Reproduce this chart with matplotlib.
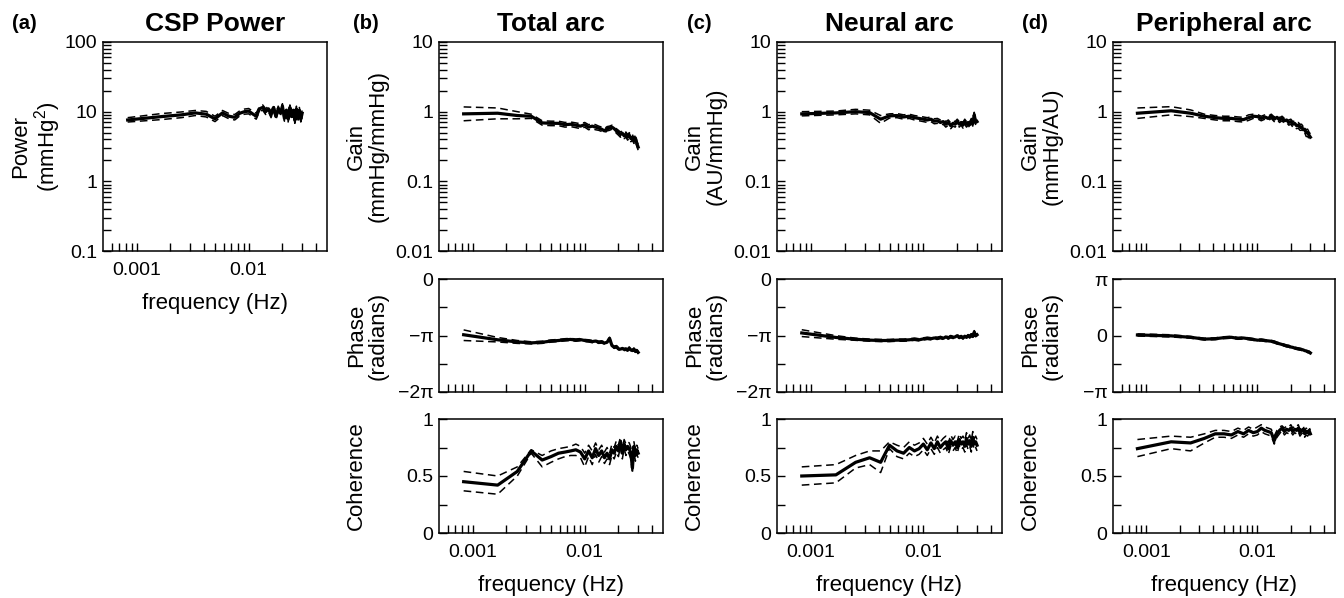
import matplotlib
matplotlib.use("Agg")
import matplotlib.pyplot as plt
from matplotlib.ticker import FixedLocator, FixedFormatter, NullFormatter
import numpy as np

plt.rcParams.update(
    {
        "font.family": "Liberation Sans",
        "mathtext.fontset": "custom",
        "mathtext.rm": "Liberation Sans",
        "mathtext.it": "Liberation Sans:italic",
        "axes.linewidth": 1.1,
        "xtick.direction": "in",
        "ytick.direction": "in",
    }
)

# frequency bins (Hz)
freq = [0.00083, 0.00167, 0.0025, 0.00333, 0.00417, 0.005, 0.00583, 0.00667, 0.0075,
        0.00833, 0.00917, 0.01, 0.01083, 0.01167, 0.0125, 0.01333, 0.01417, 0.015,
        0.01583, 0.01667, 0.0175, 0.01833, 0.01917, 0.02, 0.02083, 0.02167, 0.0225,
        0.02333, 0.02417, 0.025, 0.02583, 0.02667, 0.0275, 0.02833, 0.02917, 0.03]

# (a) CSP power, mmHg^2
power_mean = [7.6, 8.5, 9.0, 9.6, 9.2, 7.9, 9.6, 8.6, 8.3, 9.5, 10.0, 10.2, 9.3, 8.6, 11.0, 11.5, 10.0, 11.0,
              9.0, 11.5, 8.5, 11.0, 9.5, 12.0, 8.0, 10.5, 7.8, 11.5, 8.5, 10.5, 7.5, 11.0, 8.0, 10.5, 7.8, 9.5]
power_upper = [8.2, 9.4, 9.9, 10.4, 10.1, 8.6, 10.4, 9.4, 9.1, 10.3, 10.9, 11.1, 10.2, 9.5, 12.0, 12.5, 11.0, 12.0,
               9.9, 12.5, 9.4, 12.0, 10.4, 13.0, 8.8, 11.5, 8.6, 12.5, 9.3, 11.5, 8.3, 12.0, 8.8, 11.5, 8.6, 10.4]
power_lower = [7.1, 7.7, 8.2, 8.8, 8.4, 7.2, 8.8, 7.9, 7.6, 8.7, 9.2, 9.3, 8.5, 7.8, 10.1, 10.5, 9.1, 10.0,
               8.2, 10.5, 7.7, 10.0, 8.7, 11.0, 7.3, 9.6, 7.1, 10.5, 7.8, 9.6, 6.8, 10.1, 7.3, 9.6, 7.1, 8.7]

# (b) total arc
total_gain_mean = [0.93, 0.95, 0.88, 0.86, 0.69, 0.68, 0.68, 0.65, 0.66, 0.64, 0.62, 0.65, 0.6, 0.62, 0.6, 0.58, 0.56, 0.53,
                   0.57, 0.58, 0.6, 0.57, 0.53, 0.5, 0.47, 0.49, 0.45, 0.47, 0.43, 0.46, 0.41, 0.43, 0.38, 0.42, 0.35, 0.31]
total_gain_upper = [1.17, 1.13, 1.0, 0.92, 0.74, 0.73, 0.73, 0.70, 0.71, 0.69, 0.67, 0.70, 0.65, 0.67, 0.65, 0.62, 0.60, 0.57,
                    0.61, 0.62, 0.64, 0.61, 0.57, 0.54, 0.51, 0.53, 0.49, 0.51, 0.47, 0.50, 0.45, 0.47, 0.41, 0.46, 0.38, 0.34]
total_gain_lower = [0.74, 0.79, 0.79, 0.80, 0.64, 0.63, 0.63, 0.60, 0.61, 0.59, 0.57, 0.60, 0.55, 0.57, 0.55, 0.54, 0.52, 0.49,
                    0.53, 0.54, 0.56, 0.53, 0.49, 0.46, 0.43, 0.45, 0.41, 0.43, 0.39, 0.42, 0.37, 0.39, 0.35, 0.38, 0.32, 0.28]
total_phase_mean = [-3.1, -3.38, -3.5, -3.55, -3.52, -3.45, -3.42, -3.38, -3.36, -3.4, -3.37, -3.42, -3.44, -3.48, -3.45, -3.52, -3.5, -3.56,
                    -3.52, -3.3, -3.7, -3.8, -3.76, -3.88, -3.9, -3.86, -3.92, -3.9, -3.95, -3.84, -3.95, -3.98, -3.9, -4.02, -3.98, -4.08]
total_phase_upper = [-2.83, -3.25, -3.42, -3.49, -3.46, -3.39, -3.36, -3.32, -3.3, -3.34, -3.31, -3.36, -3.38, -3.42, -3.39, -3.46, -3.44, -3.5,
                     -3.46, -3.24, -3.64, -3.74, -3.7, -3.82, -3.84, -3.8, -3.86, -3.84, -3.89, -3.78, -3.89, -3.92, -3.84, -3.96, -3.92, -4.02]
total_phase_lower = [-3.42, -3.5, -3.58, -3.61, -3.58, -3.51, -3.48, -3.44, -3.42, -3.46, -3.43, -3.48, -3.5, -3.54, -3.51, -3.58, -3.56, -3.62,
                     -3.58, -3.36, -3.76, -3.86, -3.82, -3.94, -3.96, -3.92, -3.98, -3.96, -4.01, -3.9, -4.01, -4.04, -3.96, -4.08, -4.04, -4.14]
total_coh_mean = [0.45, 0.42, 0.54, 0.72, 0.64, 0.67, 0.7, 0.71, 0.72, 0.73, 0.71, 0.65, 0.72, 0.66, 0.74, 0.68, 0.72, 0.66,
                  0.7, 0.65, 0.73, 0.7, 0.76, 0.72, 0.8, 0.7, 0.78, 0.73, 0.76, 0.74, 0.7, 0.57, 0.76, 0.68, 0.73, 0.7]
total_coh_upper = [0.54, 0.5, 0.58, 0.73, 0.68, 0.72, 0.74, 0.75, 0.76, 0.78, 0.76, 0.7, 0.77, 0.72, 0.79, 0.73, 0.77, 0.71,
                   0.75, 0.7, 0.78, 0.75, 0.81, 0.77, 0.84, 0.75, 0.82, 0.78, 0.8, 0.79, 0.75, 0.64, 0.8, 0.73, 0.77, 0.74]
total_coh_lower = [0.37, 0.34, 0.5, 0.7, 0.58, 0.62, 0.65, 0.67, 0.68, 0.68, 0.66, 0.58, 0.67, 0.6, 0.69, 0.62, 0.67, 0.61,
                   0.65, 0.6, 0.68, 0.65, 0.71, 0.67, 0.76, 0.65, 0.74, 0.68, 0.72, 0.69, 0.65, 0.52, 0.72, 0.63, 0.69, 0.66]

# (c) neural arc
neural_gain_mean = [0.93, 0.96, 1.0, 0.97, 0.78, 0.87, 0.88, 0.84, 0.86, 0.82, 0.8, 0.78, 0.76, 0.78, 0.73, 0.74, 0.7, 0.72,
                    0.66, 0.7, 0.63, 0.68, 0.66, 0.72, 0.66, 0.7, 0.64, 0.72, 0.66, 0.7, 0.65, 0.74, 0.68, 0.9, 0.7, 0.72]
neural_gain_upper = [1.0, 1.02, 1.08, 1.05, 0.88, 0.93, 0.94, 0.9, 0.92, 0.88, 0.86, 0.84, 0.82, 0.84, 0.79, 0.8, 0.76, 0.78,
                     0.72, 0.76, 0.69, 0.74, 0.72, 0.78, 0.72, 0.76, 0.7, 0.78, 0.72, 0.76, 0.71, 0.8, 0.74, 0.98, 0.76, 0.78]
neural_gain_lower = [0.87, 0.9, 0.93, 0.9, 0.68, 0.81, 0.82, 0.78, 0.8, 0.76, 0.74, 0.72, 0.7, 0.72, 0.67, 0.68, 0.64, 0.66,
                     0.6, 0.64, 0.57, 0.62, 0.6, 0.66, 0.6, 0.64, 0.58, 0.66, 0.6, 0.64, 0.59, 0.68, 0.62, 0.82, 0.64, 0.66]
neural_phase_mean = [-3.0, -3.25, -3.35, -3.4, -3.42, -3.42, -3.4, -3.4, -3.38, -3.35, -3.38, -3.33, -3.3, -3.32, -3.28, -3.3, -3.25, -3.3,
                     -3.22, -3.28, -3.2, -3.25, -3.22, -3.15, -3.25, -3.2, -3.28, -3.18, -3.25, -3.15, -3.22, -3.1, -3.2, -2.95, -3.15, -3.1]
neural_phase_upper = [-2.82, -3.15, -3.29, -3.34, -3.36, -3.36, -3.34, -3.34, -3.32, -3.29, -3.32, -3.27, -3.24, -3.26, -3.22, -3.24, -3.19, -3.24,
                      -3.16, -3.22, -3.14, -3.19, -3.16, -3.09, -3.19, -3.14, -3.22, -3.12, -3.19, -3.09, -3.16, -3.04, -3.14, -2.87, -3.09, -3.04]
neural_phase_lower = [-3.2, -3.35, -3.41, -3.46, -3.48, -3.48, -3.46, -3.46, -3.44, -3.41, -3.44, -3.39, -3.36, -3.38, -3.34, -3.36, -3.31, -3.36,
                      -3.28, -3.34, -3.26, -3.31, -3.28, -3.21, -3.31, -3.26, -3.34, -3.24, -3.31, -3.21, -3.28, -3.16, -3.26, -3.03, -3.21, -3.16]
neural_coh_mean = [0.5, 0.51, 0.62, 0.66, 0.62, 0.77, 0.72, 0.7, 0.75, 0.72, 0.74, 0.78, 0.73, 0.79, 0.74, 0.8, 0.75, 0.78,
                   0.8, 0.74, 0.81, 0.77, 0.8, 0.75, 0.82, 0.78, 0.8, 0.76, 0.83, 0.78, 0.81, 0.76, 0.84, 0.78, 0.8, 0.77]
neural_coh_upper = [0.58, 0.6, 0.68, 0.72, 0.72, 0.8, 0.77, 0.75, 0.8, 0.77, 0.79, 0.83, 0.78, 0.84, 0.79, 0.85, 0.8, 0.83,
                    0.85, 0.79, 0.86, 0.82, 0.85, 0.8, 0.87, 0.83, 0.85, 0.81, 0.88, 0.83, 0.86, 0.81, 0.89, 0.83, 0.85, 0.82]
neural_coh_lower = [0.42, 0.44, 0.57, 0.6, 0.53, 0.74, 0.67, 0.65, 0.7, 0.67, 0.69, 0.73, 0.68, 0.74, 0.69, 0.75, 0.7, 0.73,
                    0.75, 0.69, 0.76, 0.72, 0.75, 0.7, 0.77, 0.73, 0.75, 0.71, 0.78, 0.73, 0.76, 0.71, 0.79, 0.73, 0.75, 0.72]

# (d) peripheral arc
periph_gain_mean = [0.95, 1.03, 0.95, 0.86, 0.82, 0.8, 0.8, 0.78, 0.77, 0.82, 0.86, 0.85, 0.8, 0.84, 0.8, 0.86, 0.78, 0.83,
                    0.76, 0.8, 0.74, 0.76, 0.7, 0.72, 0.66, 0.68, 0.63, 0.64, 0.6, 0.6, 0.55, 0.56, 0.5, 0.5, 0.46, 0.43]
periph_gain_upper = [1.13, 1.18, 1.06, 0.92, 0.88, 0.86, 0.86, 0.84, 0.83, 0.9, 0.92, 0.91, 0.86, 0.9, 0.86, 0.92, 0.84, 0.89,
                     0.82, 0.86, 0.8, 0.82, 0.76, 0.78, 0.72, 0.74, 0.69, 0.7, 0.66, 0.66, 0.61, 0.62, 0.56, 0.56, 0.51, 0.48]
periph_gain_lower = [0.8, 0.9, 0.85, 0.8, 0.76, 0.74, 0.74, 0.72, 0.71, 0.75, 0.8, 0.79, 0.74, 0.78, 0.74, 0.8, 0.72, 0.77,
                     0.7, 0.74, 0.68, 0.7, 0.64, 0.66, 0.6, 0.62, 0.57, 0.58, 0.54, 0.54, 0.49, 0.5, 0.44, 0.44, 0.41, 0.38]
periph_phase_mean = [0.03, -0.02, -0.1, -0.2, -0.18, -0.12, -0.1, -0.16, -0.14, -0.18, -0.22, -0.26, -0.25, -0.28, -0.3, -0.32, -0.36, -0.42,
                     -0.46, -0.5, -0.54, -0.58, -0.6, -0.64, -0.66, -0.7, -0.72, -0.74, -0.76, -0.78, -0.8, -0.84, -0.86, -0.9, -0.92, -0.97]
periph_phase_upper = [0.09, 0.04, -0.05, -0.15, -0.13, -0.07, -0.05, -0.11, -0.09, -0.13, -0.17, -0.21, -0.2, -0.23, -0.25, -0.27, -0.31, -0.37,
                      -0.41, -0.45, -0.49, -0.53, -0.55, -0.59, -0.61, -0.65, -0.67, -0.69, -0.71, -0.73, -0.75, -0.79, -0.81, -0.85, -0.87, -0.92]
periph_phase_lower = [-0.03, -0.08, -0.15, -0.25, -0.23, -0.17, -0.15, -0.21, -0.19, -0.23, -0.27, -0.31, -0.3, -0.33, -0.35, -0.37, -0.41, -0.47,
                      -0.51, -0.55, -0.59, -0.63, -0.65, -0.69, -0.71, -0.75, -0.77, -0.79, -0.81, -0.83, -0.85, -0.89, -0.91, -0.95, -0.97, -1.02]
periph_coh_mean = [0.74, 0.8, 0.79, 0.83, 0.87, 0.87, 0.86, 0.89, 0.87, 0.9, 0.88, 0.89, 0.92, 0.9, 0.89, 0.88, 0.81, 0.87,
                   0.9, 0.92, 0.89, 0.91, 0.9, 0.92, 0.89, 0.91, 0.9, 0.92, 0.88, 0.9, 0.91, 0.87, 0.89, 0.88, 0.9, 0.87]
periph_coh_upper = [0.82, 0.85, 0.84, 0.87, 0.9, 0.9, 0.89, 0.92, 0.9, 0.93, 0.91, 0.93, 0.95, 0.93, 0.92, 0.91, 0.85, 0.9,
                    0.93, 0.94, 0.92, 0.94, 0.93, 0.95, 0.92, 0.94, 0.93, 0.95, 0.91, 0.93, 0.94, 0.9, 0.92, 0.91, 0.93, 0.9]
periph_coh_lower = [0.67, 0.74, 0.72, 0.79, 0.84, 0.84, 0.83, 0.86, 0.84, 0.87, 0.85, 0.86, 0.89, 0.87, 0.86, 0.85, 0.78, 0.84,
                    0.87, 0.9, 0.86, 0.88, 0.87, 0.89, 0.86, 0.88, 0.87, 0.89, 0.85, 0.87, 0.88, 0.84, 0.86, 0.85, 0.87, 0.84]

W, H = 1344, 598
fig = plt.figure(figsize=(W / 100, H / 100), dpi=100)

TICK_FS = 14
LABEL_FS = 16


def add_ax(left, top, right, bottom):
    return fig.add_axes([left / W, 1 - bottom / H, (right - left) / W, (bottom - top) / H])


def style_x(ax, labels):
    ax.set_xscale("log")
    ax.set_xlim(0.0005, 0.05)
    ax.xaxis.set_major_locator(FixedLocator([0.001, 0.01]))
    minors = [0.0006, 0.0007, 0.0008, 0.0009, 0.002, 0.003, 0.004, 0.005, 0.006, 0.007,
              0.008, 0.009, 0.02, 0.03, 0.04]
    ax.xaxis.set_minor_locator(FixedLocator(minors))
    ax.xaxis.set_minor_formatter(NullFormatter())
    if labels:
        ax.xaxis.set_major_formatter(FixedFormatter(["0.001", "0.01"]))
        ax.set_xlabel("frequency (Hz)", fontsize=LABEL_FS, labelpad=10)
    else:
        ax.xaxis.set_major_formatter(NullFormatter())
    ax.tick_params(axis="both", which="both", length=6, width=1.0, labelsize=TICK_FS, top=False, right=False)
    ax.tick_params(axis="x", which="both", pad=8)
    ax.tick_params(axis="y", which="both", pad=4)


def ylabel(ax, text, width_px):
    ax.set_ylabel(text, fontsize=LABEL_FS, linespacing=1.05, va="top")
    ax.yaxis.set_label_coords(-93 / width_px, 0.5)


def draw(ax, mean, upper, lower):
    ax.plot(freq, upper, color="black", lw=1.1, ls=(0, (5, 3)))
    ax.plot(freq, lower, color="black", lw=1.1, ls=(0, (5, 3)))
    ax.plot(freq, mean, color="black", lw=2.3)


def gain_axis(ax, lo, hi):
    ax.set_yscale("log")
    ax.set_ylim(lo, hi)
    decades = []
    v = lo
    while v <= hi * 1.0001:
        decades.append(v)
        v *= 10
    ax.yaxis.set_major_locator(FixedLocator(decades))
    ax.yaxis.set_major_formatter(FixedFormatter([f"{d:g}" for d in decades]))
    minors = [d * m for d in decades[:-1] for m in range(2, 10)]
    ax.yaxis.set_minor_locator(FixedLocator(minors))
    ax.yaxis.set_minor_formatter(NullFormatter())


# ---- (a) CSP Power
ax = add_ax(103, 42, 327, 251)
draw(ax, power_mean, power_upper, power_lower)
style_x(ax, True)
gain_axis(ax, 0.1, 100)
ylabel(ax, "Power\n(mmHg$^2$)", 224)

columns = [
    (439, 663, "Gain\n(mmHg/mmHg)",
     (total_gain_mean, total_gain_upper, total_gain_lower),
     (total_phase_mean, total_phase_upper, total_phase_lower),
     (total_coh_mean, total_coh_upper, total_coh_lower), "neg"),
    (777, 1002, "Gain\n(AU/mmHg)",
     (neural_gain_mean, neural_gain_upper, neural_gain_lower),
     (neural_phase_mean, neural_phase_upper, neural_phase_lower),
     (neural_coh_mean, neural_coh_upper, neural_coh_lower), "neg"),
    (1113, 1335, "Gain\n(mmHg/AU)",
     (periph_gain_mean, periph_gain_upper, periph_gain_lower),
     (periph_phase_mean, periph_phase_upper, periph_phase_lower),
     (periph_coh_mean, periph_coh_upper, periph_coh_lower), "sym"),
]

for left, right, glabel, gain, phase, coh, prange in columns:
    wpx = right - left
    ax = add_ax(left, 42, right, 251)
    draw(ax, *gain)
    style_x(ax, False)
    gain_axis(ax, 0.01, 10)
    ylabel(ax, glabel, wpx)

    ax = add_ax(left, 279, right, 392)
    draw(ax, *phase)
    style_x(ax, False)
    if prange == "neg":
        ax.set_ylim(-2 * np.pi, 0)
        ax.yaxis.set_major_locator(FixedLocator([-2 * np.pi, -np.pi, 0]))
        ax.yaxis.set_major_formatter(FixedFormatter(["\u22122\u03c0", "\u2212\u03c0", "0"]))
        ax.yaxis.set_minor_locator(FixedLocator([-1.5 * np.pi, -0.5 * np.pi]))
    else:
        ax.set_ylim(-np.pi, np.pi)
        ax.yaxis.set_major_locator(FixedLocator([-np.pi, 0, np.pi]))
        ax.yaxis.set_major_formatter(FixedFormatter(["\u2212\u03c0", "0", "\u03c0"]))
        ax.yaxis.set_minor_locator(FixedLocator([-0.5 * np.pi, 0.5 * np.pi]))
    ylabel(ax, "Phase\n(radians)", wpx)

    ax = add_ax(left, 419, right, 533)
    draw(ax, *coh)
    style_x(ax, True)
    ax.set_ylim(0, 1)
    ax.yaxis.set_major_locator(FixedLocator([0, 0.5, 1]))
    ax.yaxis.set_major_formatter(FixedFormatter(["0", "0.5", "1"]))
    ax.yaxis.set_minor_locator(FixedLocator([0.25, 0.75]))
    ylabel(ax, "Coherence", wpx)

# titles and panel letters
titles = [(215, "CSP Power"), (551, "Total arc"), (889.5, "Neural arc"), (1224, "Peripheral arc")]
letters = [(12, "(a)"), (353, "(b)"), (687, "(c)"), (1022, "(d)")]
for x, t in titles:
    fig.text(x / W, 1 - 31 / H, t, ha="center", va="baseline", fontsize=19, fontweight="bold")
for x, t in letters:
    fig.text(x / W, 1 - 29 / H, t, ha="left", va="baseline", fontsize=14.5, fontweight="bold")

fig.savefig("out.png", dpi=100, facecolor="white")
